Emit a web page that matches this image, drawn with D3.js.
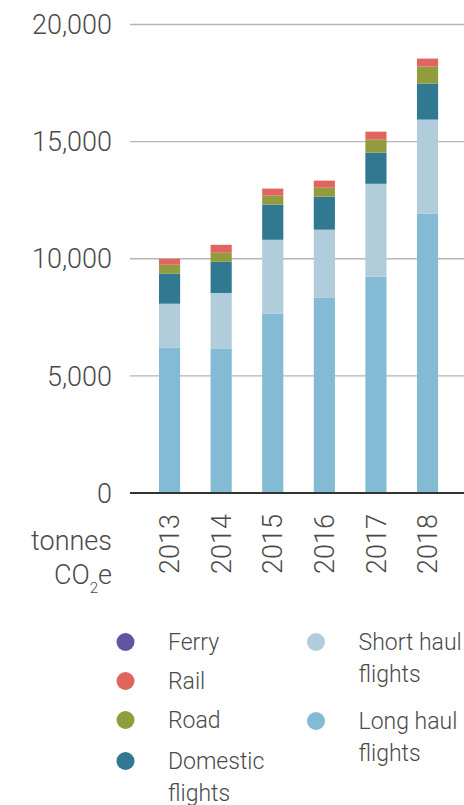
<!DOCTYPE html>
<html lang="en">
<head>
<meta charset="UTF-8">
<title>Travel emissions</title>
<script src="https://d3js.org/d3.v7.min.js"></script>
<style>
  body { margin: 0; background: #fff; }
  text { font-family: Roboto, "Liberation Sans", sans-serif; font-weight: 300; fill: #4a4a4a; }
</style>
</head>
<body>
<div id="chart"></div>
<script>
  const width = 464;
  const height = 805;

  // data (tonnes CO2e)
  const years = ["2013", "2014", "2015", "2016", "2017", "2018"];
  const ferry = [0, 0, 0, 0, 0, 0];
  const rail = [250, 340, 300, 300, 340, 340];
  const road = [385, 385, 385, 385, 555, 725];
  const domestic = [1280, 1330, 1500, 1410, 1330, 1540];
  const shortHaul = [1880, 2390, 3160, 2910, 3970, 4020];
  const longHaul = [6200, 6150, 7650, 8330, 9230, 11920];
  const yTicks = [0, 5000, 10000, 15000, 20000];

  const series = [
    { key: "longHaul", name: "Long haul flights", color: "#82bbd3", values: longHaul },
    { key: "shortHaul", name: "Short haul flights", color: "#b1ccdb", values: shortHaul },
    { key: "domestic", name: "Domestic flights", color: "#317891", values: domestic },
    { key: "road", name: "Road", color: "#919c3e", values: road },
    { key: "rail", name: "Rail", color: "#df655e", values: rail },
    { key: "ferry", name: "Ferry", color: "#5e56a3", values: ferry }
  ];

  const table = years.map((y, i) => {
    const row = { year: y };
    series.forEach(s => row[s.key] = s.values[i]);
    return row;
  });

  const stacked = d3.stack().keys(series.map(s => s.key))(table);

  const svg = d3.select("#chart").append("svg")
    .attr("width", width)
    .attr("height", height);

  const x = d3.scaleBand()
    .domain(years)
    .range([143.5, 453.6])
    .paddingInner(0.59)
    .paddingOuter(0.3);

  const y = d3.scaleLinear()
    .domain([0, 20000])
    .range([493, 24.5]);

  // gridlines
  svg.append("g")
    .selectAll("line")
    .data(yTicks.filter(d => d > 0))
    .enter().append("line")
    .attr("x1", 130)
    .attr("x2", width)
    .attr("y1", d => y(d))
    .attr("y2", d => y(d))
    .attr("stroke", "#b5b5b5")
    .attr("stroke-width", 1.3);

  // bars
  svg.append("g")
    .selectAll("g")
    .data(stacked)
    .enter().append("g")
    .attr("fill", (d, i) => series[i].color)
    .selectAll("rect")
    .data(d => d)
    .enter().append("rect")
    .attr("x", d => x(d.data.year))
    .attr("width", x.bandwidth())
    .attr("y", d => y(d[1]))
    .attr("height", d => y(d[0]) - y(d[1]));

  // zero line
  svg.append("line")
    .attr("x1", 130)
    .attr("x2", width)
    .attr("y1", y(0))
    .attr("y2", y(0))
    .attr("stroke", "#333")
    .attr("stroke-width", 2);

  // y tick labels
  svg.append("g")
    .selectAll("text")
    .data(yTicks)
    .enter().append("text")
    .attr("x", 112)
    .attr("y", d => y(d))
    .attr("dy", "0.36em")
    .attr("text-anchor", "end")
    .style("font-size", "27px")
    .text(d => d3.format(",")(d));

  // year labels
  svg.append("g")
    .selectAll("text")
    .data(years)
    .enter().append("text")
    .attr("transform", d => `translate(${x(d) + x.bandwidth() / 2},514) rotate(-90)`)
    .attr("dy", "0.36em")
    .attr("text-anchor", "end")
    .style("font-size", "27px")
    .text(d => d);

  // unit label
  svg.append("text")
    .attr("x", 112)
    .attr("y", 550)
    .attr("text-anchor", "end")
    .style("font-size", "27px")
    .text("tonnes");

  const unit = svg.append("text")
    .attr("x", 112)
    .attr("y", 584)
    .attr("text-anchor", "end")
    .style("font-size", "27px");
  unit.append("tspan").text("CO");
  unit.append("tspan").attr("dy", 9).style("font-size", "15px").text("2");
  unit.append("tspan").attr("dy", -9).text("e");

  // legend
  const legendItems = [
    { s: series[5], cx: 125.5, cy: 642, lines: ["Ferry"] },
    { s: series[4], cx: 125.5, cy: 681, lines: ["Rail"] },
    { s: series[3], cx: 125.5, cy: 720, lines: ["Road"] },
    { s: series[2], cx: 125.5, cy: 761, lines: ["Domestic", "flights"] },
    { s: series[1], cx: 316, cy: 642, lines: ["Short haul", "flights"] },
    { s: series[0], cx: 316, cy: 721, lines: ["Long haul", "flights"] }
  ];

  const legend = svg.append("g")
    .selectAll("g")
    .data(legendItems)
    .enter().append("g");

  legend.append("circle")
    .attr("cx", d => d.cx)
    .attr("cy", d => d.cy)
    .attr("r", 9)
    .attr("fill", d => d.s.color);

  legend.append("text")
    .attr("x", d => d.cx + 42.5)
    .attr("y", d => d.cy)
    .attr("dy", "0.36em")
    .style("font-size", "23px")
    .selectAll("tspan")
    .data(d => d.lines.map((t, i) => ({ t, i, cx: d.cx })))
    .enter().append("tspan")
    .attr("x", d => d.cx + 42.5)
    .attr("dy", d => d.i === 0 ? "0.36em" : 32)
    .text(d => d.t);
</script>
</body>
</html>
